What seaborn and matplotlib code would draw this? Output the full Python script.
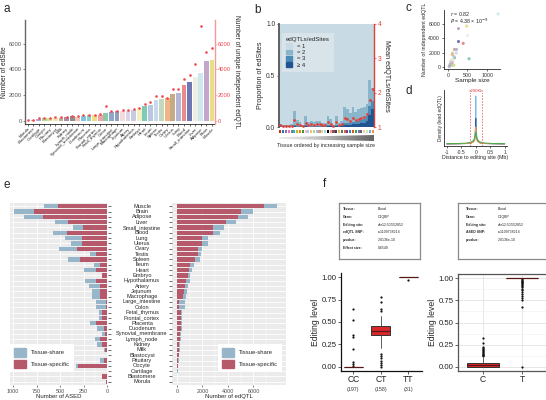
import numpy as np
import pandas as pd
import matplotlib
matplotlib.use("Agg")
import matplotlib.pyplot as plt
import matplotlib.patches as mpatches
import matplotlib.transforms as mtransforms
import seaborn as sns

sns.set_style("ticks")
plt.rcParams["font.family"] = ["Liberation Sans", "DejaVu Sans"]
plt.rcParams["axes.linewidth"] = 0.6
plt.rcParams["xtick.major.width"] = 0.5
plt.rcParams["ytick.major.width"] = 0.5
plt.rcParams["xtick.major.size"] = 1.5
plt.rcParams["ytick.major.size"] = 1.5
plt.rcParams["xtick.major.pad"] = 1.2
plt.rcParams["ytick.major.pad"] = 1.2

# ── data
tissues_e = ["Muscle", "Brain", "Adipose", "Liver", "Small_intestine", "Blood", "Lung", "Uterus",
             "Ovary", "Testis", "Spleen", "Ileum", "Heart", "Embryo", "Hypothalamus", "Artery",
             "Jejunum", "Macrophage", "Large_intestine", "Colon", "Fetal_thymus", "Frontal_cortex",
             "Placenta", "Duodenum", "Synovial_membrane", "Lymph_node", "Kidney", "Milk",
             "Blastocyst", "Pituitary", "Oocyte", "Cartilage", "Blastomere", "Morula"]
tissues_a = tissues_e[::-1]

edsite_a = [30, 80, 150, 200, 200, 220, 270, 300, 380, 340, 420, 430, 450, 480, 650, 720, 750,
            780, 800, 830, 1050, 1150, 1250, 1650, 1700, 1750, 2100, 2200, 2800, 3000, 3450,
            3700, 4650, 4700]
edqtl_a = [50, 100, 200, 250, 250, 280, 300, 350, 420, 380, 450, 470, 500, 520, 1150, 780, 780,
           820, 850, 900, 1050, 1300, 1450, 1950, 1950, 1750, 2450, 2450, 3300, 3550, 4400,
           7400, 5350, 5700]
colors_a = ["#c9c2e0", "#b9b3da", "#b3a6d6", "#b7d98f", "#cfe39a", "#f2e3ad", "#bcae9a", "#a98ca1",
            "#8e8e8e", "#f6c6b5", "#7fc7e0", "#8fcfc9", "#f1dc7f", "#f3a3a7", "#8bc9a9", "#8fa8c9",
            "#8ea2c0", "#f8d9d9", "#d6d5ea", "#c9cbe3", "#f4f0c3", "#7fcab6", "#b9c6df", "#c7d9ea",
            "#c3d8bf", "#f2b484", "#c6aa84", "#b4b6d7", "#e98a8b", "#6e77b4", "#eef0e4", "#cde8ef",
            "#c4a6ca", "#e6e089"]

# panel b (tissues ordered by sample size)
p2_b = [0.025, 0.015, 0.015, 0.015, 0.025, 0.14, 0.06, 0.04, 0.015, 0.095, 0.04, 0.05, 0.04,
        0.05, 0.05, 0.03, 0.03, 0.09, 0.065, 0.015, 0.09, 0.03, 0.045, 0.15, 0.13, 0.10, 0.14,
        0.10, 0.11, 0.11, 0.11, 0.11, 0.26, 0.13]
p3_b = [0.004, 0.003, 0.003, 0.003, 0.004, 0.015, 0.007, 0.006, 0.003, 0.01, 0.006, 0.006, 0.006,
        0.006, 0.006, 0.006, 0.006, 0.012, 0.01, 0.003, 0.012, 0.006, 0.008, 0.02, 0.02, 0.02,
        0.02, 0.02, 0.03, 0.03, 0.04, 0.05, 0.08, 0.08]
p4_b = [0.001, 0.002, 0.002, 0.002, 0.001, 0.005, 0.003, 0.004, 0.002, 0.005, 0.004, 0.004, 0.004,
        0.004, 0.004, 0.004, 0.004, 0.008, 0.005, 0.002, 0.008, 0.004, 0.007, 0.02, 0.02, 0.02,
        0.03, 0.03, 0.03, 0.04, 0.04, 0.06, 0.12, 0.17]
mean_b = [1.05, 1.03, 1.03, 1.03, 1.04, 1.2, 1.1, 1.06, 1.03, 1.12, 1.07, 1.08, 1.07, 1.08, 1.08,
          1.05, 1.05, 1.15, 1.1, 1.03, 1.14, 1.06, 1.08, 1.25, 1.22, 1.18, 1.27, 1.2, 1.22, 1.25,
          1.3, 1.38, 1.8, 2.1]
strip_b = ["#d62728", "#1f77b4", "#9467bd", "#e377c2", "#7f7f7f", "#17becf", "#bcbd22", "#ff7f0e",
           "#2ca02c", "#f7b6d2", "#aec7e8", "#ffbb78", "#98df8a", "#c5b0d5", "#c49c94", "#dbdb8d",
           "#9edae5", "#000000", "#ff9896", "#8c564b", "#393b79", "#e7ba52", "#637939", "#d6616b",
           "#7b4173", "#3182bd", "#e6550d", "#31a354", "#756bb1", "#636363", "#fdd0a2", "#c7e9c0",
           "#6baed6", "#fd8d3c"]
ratio_labels = ["= 1", "= 2", "= 3", "\u2265 4"]
ratio_colors = ["#c8dae4", "#8ab6cb", "#4c8bb6", "#205490"]

# panel c
sample_c = [40, 35, 60, 150, 130, 70, 55, 90, 80, 100, 65, 75, 110, 95, 540, 85, 105, 70, 120,
            90, 95, 170, 150, 210, 120, 110, 170, 220, 390, 270, 500, 1280, 270, 480]

# panel d
d_x = [-1.0, -0.6, -0.3, -0.15, -0.08, -0.04, -0.015, 0.0, 0.015, 0.04, 0.08, 0.15, 0.3, 0.6, 1.0]
d_blue = [0.04, 0.045, 0.05, 0.07, 0.10, 0.16, 0.35, 1.0, 0.35, 0.16, 0.10, 0.07, 0.05, 0.045, 0.04]
d_navy = [0.04, 0.045, 0.05, 0.06, 0.09, 0.13, 0.25, 0.55, 0.25, 0.13, 0.09, 0.06, 0.05, 0.045, 0.04]
d_orange = [0.04, 0.045, 0.05, 0.06, 0.08, 0.11, 0.2, 0.38, 0.2, 0.11, 0.08, 0.06, 0.05, 0.045, 0.04]
d_green = [0.05, 0.05, 0.06, 0.08, 0.11, 0.15, 0.22, 0.27, 0.22, 0.15, 0.11, 0.08, 0.06, 0.05, 0.05]

# panel e
ased_spec = [525, 775, 686, 410, 257, 421, 264, 264, 321, 114, 286, 71, 121, 54, 118, 79, 79, 79,
             14, 14, 54, 50, 114, 36, 25, 71, 54, 25, 0, 29, 304, 0, 54, 14]
ased_share = [143, 215, 200, 144, 107, 158, 179, 122, 186, 65, 128, 65, 122, 0, 114, 110, 78, 78,
              107, 107, 35, 39, 72, 71, 29, 61, 53, 11, 0, 42, 25, 0, 0, 0]
edqtl_spec = [6800, 5030, 4820, 3850, 2850, 2790, 2000, 2000, 1670, 1620, 1410, 1000, 920, 850,
              740, 640, 540, 490, 130, 130, 330, 330, 310, 310, 260, 230, 180, 150, 130, 100, 60,
              40, 20, 10]
edqtl_share = [1020, 940, 770, 740, 840, 620, 460, 460, 280, 300, 360, 360, 290, 200, 260, 210,
               250, 250, 510, 510, 50, 50, 50, 50, 70, 50, 50, 50, 20, 30, 20, 10, 5, 2]
col_share = "#97b6c9"
col_spec = "#b65a6b"

# panel f
geno_labels = ["CC", "CT", "TT"]
geno_n = ["(197)", "(158)", "(31)"]
geno_q1 = [0.0, 0.35, 1.0]
geno_med = [0.0, 0.40, 1.0]
geno_q3 = [0.0, 0.45, 1.0]
geno_lo = [0.0, 0.21, 1.0]
geno_hi = [0.0, 0.57, 1.0]
geno_fliers = [[0.65, 0.52, 0.36, 0.33, 0.2, 0.05, 0.03, 0.01],
               [0.78, 0.72, 0.65, 0.62, 0.14, 0.12, 0.10, 0.07, 0.04, 0.02, 0.0],
               [0.97]]
allele_labels = ["C", "T"]
allele_q1 = [0.0, 1.0]
allele_med = [0.02, 1.0]
allele_q3 = [0.05, 1.0]
allele_lo = [0.0, 1.0]
allele_hi = [0.10, 1.0]
allele_fliers = [[0.12, 0.13, 0.14, 0.15, 0.16, 0.17, 0.18, 0.19, 0.20, 0.21, 0.22, 0.27, 0.33],
                 [0.99, 0.98, 0.97, 0.96, 0.95, 0.94, 0.93, 0.92, 0.91, 0.90, 0.88, 0.86, 0.84,
                  0.82, 0.80, 0.78, 0.75, 0.67, 0.0]]
info_qtl = [("Tissue:", "Blood"), ("Gene:", "C1QBP"), ("Editing site:", "chr12:51552852"),
            ("edQTL SNP:", "rs1109738214"), ("p-value:", "2.0136e-10"), ("Effect size:", "0.6549")]
info_ased = [("Tissue:", "Blood"), ("Gene:", "C1QBP"), ("Editing site:", "chr12:51552852"),
             ("ASED SNP:", "rs1109738214"), ("p-value:", "2.0136e-10")]

W, H = 546, 400
fig = plt.figure(figsize=(W / 100, H / 100), dpi=100)


def px_axes(x0, y0, x1, y1):
    return fig.add_axes([x0 / W, 1 - y1 / H, (x1 - x0) / W, (y1 - y0) / H])


def letter(x, y, s):
    fig.text(x / W, 1 - y / H, s, fontsize=8.5, va="center", ha="left")


# ── a
n = len(tissues_a)
ax = px_axes(25, 20, 215, 124)
df_a = pd.DataFrame({"tissue": tissues_a, "edsite": edsite_a})
sns.barplot(data=df_a, x="tissue", y="edsite", hue="tissue", palette=colors_a, legend=False,
            width=0.85, linewidth=0, saturation=1, ax=ax)
ax2 = ax.twinx()
sns.scatterplot(x=np.arange(n), y=edqtl_a, color="#f0484f", s=3.5, linewidth=0, ax=ax2)
for a_ in (ax, ax2):
    a_.set_ylim(-230, 7840)
    a_.set_yticks([0, 2000, 4000, 6000])
ax.set_xlim(-0.45, n - 0.45)
ax.set_xticks(range(n))
ax.set_xticklabels(tissues_a, rotation=45, ha="right", rotation_mode="anchor", fontsize=3.2)
ax.tick_params(axis="y", labelsize=4.2, colors="#555555", pad=0.8)
ax.tick_params(axis="x", length=1.2, pad=0.8)
ax.set_xlabel("")
ax.set_ylabel("Number of edSite", fontsize=4.8, labelpad=0.5)
ax.spines["top"].set_visible(False)
ax.spines["right"].set_visible(False)
ax.spines["left"].set_color("#666666")
ax.spines["left"].set_linewidth(1.0)
for s in ("top", "left", "bottom"):
    ax2.spines[s].set_visible(False)
ax2.spines["right"].set_color("#f39a9a")
ax2.spines["right"].set_linewidth(1.0)
ax2.tick_params(axis="y", labelsize=4.2, colors="#f39a9a", labelcolor="#f0484f", pad=0.8)
ax2.set_ylabel("Number of unique independent edQTL", rotation=270, va="bottom", fontsize=4.8,
               labelpad=1)
letter(4, 9, "a")

# ── b
idx = np.arange(n)
p2 = np.array(p2_b); p3 = np.array(p3_b); p4 = np.array(p4_b)
axb = px_axes(279, 24, 374, 127)
for heights, col in [(np.ones(n), ratio_colors[0]), (p2 + p3 + p4, ratio_colors[1]),
                     (p3 + p4, ratio_colors[2]), (p4, ratio_colors[3])]:
    sns.barplot(x=idx, y=heights, color=col, width=1.0, linewidth=0, saturation=1, ax=axb)
axb.set_xlim(-0.5, n - 0.5)
axb.set_ylim(0, 1)
axb.set_yticks([0, 0.5, 1.0])
axb.set_yticklabels(["0.0", "0.5", "1.0"])
axb.set_xticks([])
axb.tick_params(axis="y", labelsize=4.8, colors="#333333")
axb.set_ylabel("Proportion of edSites", fontsize=5.2, labelpad=1.5)
axb.spines["top"].set_visible(False)
axb.spines["right"].set_visible(False)
axb.spines["bottom"].set_visible(False)
axb.spines["left"].set_color("#555555")
axb.spines["left"].set_linewidth(1.3)
axb2 = axb.twinx()
sns.scatterplot(x=idx, y=mean_b, color="#e0403a", s=4, linewidth=0, ax=axb2)
axb2.set_ylim(1, 4)
axb2.set_xlim(-0.5, n - 0.5)
axb2.set_yticks([1, 2, 3, 4])
axb2.tick_params(axis="y", labelsize=4.8, colors="#e0403a")
for s in ("top", "left", "bottom"):
    axb2.spines[s].set_visible(False)
axb2.spines["right"].set_color("#e0403a")
axb2.spines["right"].set_linewidth(1.0)
axb2.set_ylabel("Mean edQTLs/edSites", rotation=270, va="bottom", fontsize=5.2, labelpad=1)
handles = [mpatches.Patch(color=c, label=l) for c, l in zip(ratio_colors, ratio_labels)]
leg = axb2.legend(handles=handles, title="edQTLs/edSites", loc="upper left",
                  bbox_to_anchor=(0.03, 0.91), fontsize=4.2, title_fontsize=4.4, frameon=True,
                  facecolor="#dde6ec", edgecolor="none", fancybox=False, handlelength=1.1,
                  handleheight=0.9, labelspacing=0.15, borderpad=0.7, borderaxespad=0)
leg._legend_box.align = "left"
axs = px_axes(279, 129, 374, 134)
axs.scatter(idx, np.zeros(n), c=strip_b, marker="s", s=2.2, linewidths=0)
axs.set_xlim(-0.5, n - 0.5)
axs.axis("off")
axg = px_axes(279, 135, 374, 141)
im = axg.imshow(np.linspace(0, 1, 200)[None, :], cmap="Greys", vmin=-0.25, vmax=1.6,
                aspect="auto", extent=(0, 1, 0, 1))
wedge = mpatches.Polygon([(0, 0.35), (1, 0.0), (1, 1.0), (0, 0.65)], transform=axg.transData)
im.set_clip_path(wedge)
axg.set_xlim(0, 1); axg.set_ylim(0, 1)
axg.axis("off")
fig.text(326 / W, 1 - 146 / H, "Tissue ordered by increasing sample size", ha="center",
         va="center", fontsize=3.8)
letter(254, 10, "b")

# ── c
axc = px_axes(444, 10, 500, 69)
sns.scatterplot(x=sample_c, y=edqtl_a, hue=tissues_a, palette=colors_a, legend=False, s=5,
                linewidth=0, ax=axc)
axc.set_xlim(-100, 1330)
axc.set_ylim(-280, 7950)
axc.set_xticks([0, 500, 1000])
axc.set_yticks([0, 2000, 4000, 6000])
axc.tick_params(labelsize=3.8, colors="#333333")
axc.set_xlabel("Sample size", fontsize=4.6, labelpad=0.5)
axc.set_ylabel("Number of independent edQTL", fontsize=3.8, labelpad=1)
sns.despine(ax=axc)
axc.text(0.1, 0.93, "$r$ = 0.82", transform=axc.transAxes, fontsize=3.8, va="center")
axc.text(0.1, 0.8, "$P$ = 4.38 \u00d7 10$^{-9}$", transform=axc.transAxes, fontsize=3.8,
         va="center")
letter(406, 8, "c")

# ── d
axd = px_axes(444, 90, 507, 146)
df_d = pd.DataFrame({"x": d_x * 4,
                     "y": d_blue + d_navy + d_orange + d_green,
                     "grp": ["blue"] * len(d_x) + ["navy"] * len(d_x) + ["orange"] * len(d_x)
                     + ["green"] * len(d_x)})
sns.lineplot(data=df_d, x="x", y="y", hue="grp", legend=False, linewidth=0.7,
             palette={"blue": "#79bde6", "navy": "#3b5ba8", "orange": "#e9a04a",
                      "green": "#4dab4d"}, ax=axd)
for xv in (-0.2, 0.2):
    axd.axvline(xv, color="#e86a6a", lw=0.6, ls=(0, (2, 1.5)))
axd.plot([-0.2, 0.2], [1.1, 1.1], color="#e86a6a", lw=0.6, ls=(0, (2, 1.5)))
axd.text(0, 1.1, "\u00b1200Kb", color="#d94040", fontsize=3.2, ha="center", va="center",
         bbox=dict(fc="white", ec="none", pad=0.3))
axd.set_xlim(-1.1, 1.08)
axd.set_ylim(0, 1.12)
axd.set_xticks([-1, -0.5, 0, 0.5, 1])
axd.set_xticklabels(["-1", "-0.5", "0", "0.5", "1"])
axd.set_yticks([])
axd.tick_params(labelsize=3.6, colors="#333333")
axd.set_xlabel("Distance to editing site (Mb)", fontsize=3.8, labelpad=0.5)
axd.set_ylabel("Density (lead edQTL)", fontsize=3.4, labelpad=1)
sns.despine(ax=axd)
letter(406, 91, "d")

# ── e
df_e = pd.DataFrame({"tissue": tissues_e,
                     "ased_total": np.array(ased_spec) + np.array(ased_share),
                     "ased_spec": ased_spec,
                     "qtl_total": np.array(edqtl_spec) + np.array(edqtl_share),
                     "qtl_spec": edqtl_spec})
axe1 = px_axes(10, 203, 108, 385)
axe2 = px_axes(172, 203, 286, 385)
for a_, tot, spec in [(axe1, "ased_total", "ased_spec"), (axe2, "qtl_total", "qtl_spec")]:
    a_.set_facecolor("#ebebeb")
    a_.set_axisbelow(True)
    sns.barplot(data=df_e, y="tissue", x=tot, color=col_share, saturation=1, width=0.82,
                linewidth=0, orient="h", ax=a_)
    sns.barplot(data=df_e, y="tissue", x=spec, color=col_spec, saturation=1, width=0.82,
                linewidth=0, orient="h", ax=a_)
    a_.set_ylim(len(tissues_e) - 0.4, -0.6)
    a_.grid(True, axis="both", which="major", color="white", lw=0.6)
    a_.grid(True, axis="x", which="minor", color="white", lw=0.3)
    for s in a_.spines.values():
        s.set_visible(False)
    a_.set_ylabel("")
    a_.tick_params(axis="y", labelleft=False, labelright=False, length=2.2, width=0.5,
                   color="#333333")
    a_.tick_params(axis="x", labelsize=3.9, colors="#4d4d4d", length=1.5)
axe1.set_xlim(1032, -10)
axe1.set_xticks([1000, 750, 500, 250, 0])
axe1.set_xticks([875, 625, 375, 125], minor=True)
axe1.yaxis.tick_right()
axe1.tick_params(axis="y", labelright=False)
axe1.set_xlabel("Number of ASED", fontsize=4.3, labelpad=0.5)
axe2.set_xlim(-390, 8550)
axe2.set_xticks([0, 2000, 4000, 6000])
axe2.set_xticks([1000, 3000, 5000, 7000], minor=True)
axe2.set_xlabel("Number of edQTL", fontsize=4.3, labelpad=0.5)
for a_ in (axe1, axe2):
    a_.tick_params(axis="x", which="minor", length=0)
trans = mtransforms.blended_transform_factory(fig.transFigure, axe1.transData)
for i, t in enumerate(tissues_e):
    axe1.text(142 / W, i, t, transform=trans, ha="center", va="center", fontsize=4.1,
              clip_on=False)
leg_h = [mpatches.Patch(color=col_share, label="Tissue-share"),
         mpatches.Patch(color=col_spec, label="Tissue-specific")]
for a_, loc, anchor in [(axe1, "lower left", (0.0, 0.07)), (axe2, "lower right", (0.965, 0.07))]:
    a_.legend(handles=leg_h, loc=loc, bbox_to_anchor=anchor, fontsize=4.2, frameon=True,
              facecolor="white", edgecolor="none", fancybox=False, framealpha=1,
              handlelength=2.0, handleheight=1.9, labelspacing=0.5, borderpad=0.7,
              borderaxespad=0, handletextpad=0.8)
letter(4, 185, "e")

# ── f
def info_box(x0, x1, rows, xlab, xval):
    axi = px_axes(x0, 203, x1, 259)
    axi.set_xticks([]); axi.set_yticks([])
    for s in axi.spines.values():
        s.set_color("#8a8a8a"); s.set_linewidth(0.9)
    for k, (lab, val) in enumerate(rows):
        yy = 0.89 - k * 0.138
        axi.text(xlab, yy, lab, fontweight="bold", fontsize=2.5, transform=axi.transAxes,
                 va="center")
        axi.text(xval, yy, val, fontsize=2.5, transform=axi.transAxes, va="center")


info_box(339, 420, info_qtl, 0.05, 0.48)
info_box(458, 547, info_ased, 0.09, 0.45)


def box_stats(labels, q1, med, q3, lo, hi, fl):
    return [dict(label=l, q1=a, med=b, q3=c, whislo=d, whishi=e, fliers=f)
            for l, a, b, c, d, e, f in zip(labels, q1, med, q3, lo, hi, fl)]


bp_kw = dict(patch_artist=True, showfliers=True,
             boxprops=dict(facecolor="#d9282b", edgecolor="#333333", linewidth=0.7),
             medianprops=dict(color="#5a1515", linewidth=0.9),
             whiskerprops=dict(color="#444444", linewidth=0.6),
             capprops=dict(linewidth=0),
             flierprops=dict(marker="o", markersize=1.6, markerfacecolor="#111111",
                             markeredgecolor="none"))
axf1 = px_axes(341, 273, 422, 371)
axf1.bxp(box_stats(geno_labels, geno_q1, geno_med, geno_q3, geno_lo, geno_hi, geno_fliers),
         positions=[0, 1, 2], widths=0.7, **bp_kw)
axf1.set_xlim(-0.45, 2.5)
axf1.set_ylim(-0.045, 1.045)
axf1.set_yticks([0, 0.25, 0.5, 0.75, 1.0])
axf1.set_yticklabels(["0.00", "0.25", "0.50", "0.75", "1.00"])
axf1.tick_params(axis="y", labelsize=5.6, colors="#222222", length=2)
axf1.tick_params(axis="x", labelsize=6.2, colors="#222222", length=2)
axf1.set_ylabel("Editing level", fontsize=6.2, labelpad=1)
sns.despine(ax=axf1)
for s in ("left", "bottom"):
    axf1.spines[s].set_linewidth(0.9)
    axf1.spines[s].set_color("#111111")
tr_n = mtransforms.blended_transform_factory(axf1.transData, fig.transFigure)
for i, t in enumerate(geno_n):
    axf1.text(i, 1 - 390 / H, t, transform=tr_n, ha="center", va="center", fontsize=3.8,
              color="#333333")

axf2 = px_axes(458, 274, 547, 371)
axf2.set_facecolor("white")
axf2.set_axisbelow(True)
axf2.bxp(box_stats(allele_labels, allele_q1, allele_med, allele_q3, allele_lo, allele_hi,
                   allele_fliers), positions=[0, 1], widths=0.8, **bp_kw)
axf2.set_xlim(-0.64, 1.64)
axf2.set_ylim(-0.045, 1.045)
axf2.set_yticks([0, 0.25, 0.5, 0.75, 1.0])
axf2.set_yticklabels(["0.00", "0.25", "0.50", "0.75", "1.00"])
axf2.set_yticks([0.125, 0.375, 0.625, 0.875], minor=True)
axf2.grid(True, which="major", color="#e3e3e3", lw=0.6)
axf2.grid(True, axis="y", which="minor", color="#f0f0f0", lw=0.4)
axf2.tick_params(axis="y", which="minor", length=0)
axf2.tick_params(axis="y", labelsize=5.6, colors="#222222", length=2)
axf2.tick_params(axis="x", labelsize=6.2, colors="#222222", length=2)
axf2.set_ylabel("Editing level", fontsize=6.2, labelpad=1)
for s in axf2.spines.values():
    s.set_color("#555555"); s.set_linewidth(0.9)
letter(323, 184, "f")

fig.savefig("out.png", dpi=100)
